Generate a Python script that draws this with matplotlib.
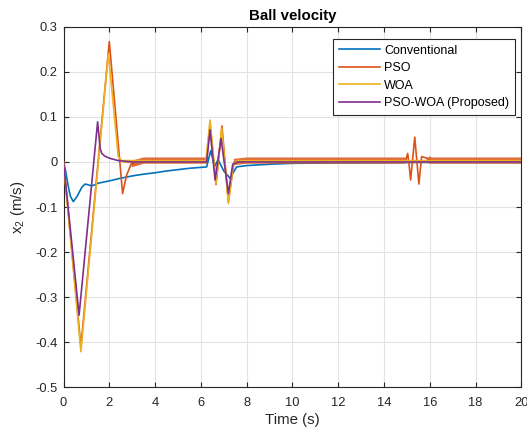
import matplotlib
matplotlib.use("Agg")
import matplotlib.pyplot as plt
import numpy as np

plt.rcParams['font.family'] = ['Liberation Sans', 'DejaVu Sans']
plt.rcParams['mathtext.fontset'] = 'custom'
plt.rcParams['mathtext.rm'] = 'Liberation Sans'
plt.rcParams['mathtext.it'] = 'Liberation Sans'

# ---- data ----
t_conv = [0, 0.1, 0.2, 0.3, 0.43, 0.6, 0.8, 0.94, 1.1, 1.23, 1.4, 1.52, 2.0, 2.5, 3.0,
          3.5, 4.0, 4.5, 5.0, 5.5, 6.0, 6.25, 6.43, 6.6, 6.75, 7.0, 7.27, 7.56, 8.0,
          9.0, 10.0, 12.0, 16.0, 20.0]
conv = [0, -0.022, -0.052, -0.076, -0.088, -0.076, -0.056, -0.049, -0.051, -0.053, -0.050,
        -0.047, -0.042, -0.036, -0.031, -0.027, -0.024, -0.020, -0.017, -0.014, -0.012,
        -0.011, 0.025, -0.010, 0.005, -0.020, -0.036, -0.011, -0.008, -0.005, -0.003,
        -0.002, -0.001, -0.001]

t_pso = [0, 0.76, 2.0, 2.58, 2.75, 2.95, 3.5, 6.25, 6.40, 6.66, 6.92, 7.2, 7.45, 8.0,
         14.95, 15.03, 15.08, 15.16, 15.34, 15.52, 15.64, 15.9, 16.0, 20.0]
pso = [0, -0.41, 0.267, -0.070, -0.030, -0.005, 0.003, 0.003, 0.085, -0.050, 0.080,
       -0.088, 0.0, 0.003, 0.003, 0.019, 0.0, -0.040, 0.055, -0.049, 0.012, 0.008,
       0.003, 0.003]
pso_settled = [(2.95, 6.25), (7.45, 14.95), (15.9, 20.0)]

t_woa = [0, 0.76, 1.96, 2.39, 2.55, 6.22, 6.40, 6.66, 6.91, 7.2, 7.42, 7.6, 20.0]
woa = [0, -0.421, 0.241, 0.012, 0.003, 0.003, 0.093, -0.048, 0.075, -0.092, -0.003,
       0.003, 0.003]
woa_settled = [(2.55, 6.22), (7.6, 20.0)]

t_pw = [0, 0.68, 1.49, 1.60, 1.67, 1.8, 2.03, 2.4, 3.0, 6.25, 6.40, 6.62, 6.88, 7.2,
        7.39, 7.6, 20.0]
pw = [0, -0.340, 0.089, 0.030, 0.019, 0.013, 0.008, 0.003, 0.0, 0.0, 0.071, -0.040,
      0.052, -0.070, -0.005, 0.0, 0.0]

labels = ['Conventional', 'PSO', 'WOA', 'PSO-WOA (Proposed)']
colors = ['#0072BD', '#D95319', '#EDB120', '#7E2F8E']
x_ticks = [0, 2, 4, 6, 8, 10, 12, 14, 16, 18, 20]
y_ticks = [-0.5, -0.4, -0.3, -0.2, -0.1, 0, 0.1, 0.2, 0.3]
y_ticklabels = ['-0.5', '-0.4', '-0.3', '-0.2', '-0.1', '0', '0.1', '0.2', '0.3']

fig = plt.figure(figsize=(5.27, 4.32), dpi=100)
ax = fig.add_axes([0.1205, 0.1035, 0.869, 0.8345])

lw = 1.2
ax.plot(t_conv, conv, color=colors[0], lw=lw, label=labels[0], zorder=2)

ax.plot(t_pso, pso, color=colors[1], lw=lw, label=labels[1], zorder=3)
tp = np.array(t_pso); yp = np.array(pso)
for a, b in pso_settled:
    m = (tp >= a) & (tp <= b)
    ax.plot(tp[m], yp[m], color=colors[1], lw=4.5, alpha=0.85, solid_capstyle='butt', zorder=3)

ax.plot(t_woa, woa, color=colors[2], lw=lw, label=labels[2], zorder=4)
tw = np.array(t_woa); yw = np.array(woa)
for a, b in woa_settled:
    m = (tw >= a) & (tw <= b)
    ax.plot(tw[m], yw[m], color=colors[2], lw=2.2, solid_capstyle='butt', zorder=4)

ax.plot(t_pw, pw, color=colors[3], lw=lw, label=labels[3], zorder=5)

ax.set_xlim(0, 20)
ax.set_ylim(-0.5, 0.3)
ax.set_xticks(x_ticks)
ax.set_yticks(y_ticks)
ax.set_xticklabels([str(v) for v in x_ticks])
ax.set_yticklabels(y_ticklabels)
ax.grid(True, color='#E3E3E3', lw=0.8)
ax.set_axisbelow(True)
ax.tick_params(direction='in', top=True, right=True, length=3.5, width=0.8,
               labelsize=9.3, colors='#262626')
ax.tick_params(axis='x', pad=7)
ax.tick_params(axis='y', pad=4.5)
for s in ax.spines.values():
    s.set_color('#262626')
    s.set_linewidth(0.8)

ax.set_xlabel('Time (s)', fontsize=10.8, color='#262626', labelpad=3)
ax.set_ylabel(r'x$_{\mathregular{2}}$ (m/s)', fontsize=10.8, color='#262626', labelpad=6)
ax.set_title('Ball velocity', fontsize=10.8, fontweight='bold', pad=5)

leg = ax.legend(loc='upper right', bbox_to_anchor=(0.986, 0.966), borderaxespad=0,
                fontsize=9, handlelength=3.3, handletextpad=0.35, labelspacing=0.44,
                borderpad=0.45, fancybox=False, framealpha=1, edgecolor='#262626')
leg.get_frame().set_linewidth(0.8)

fig.savefig('out.png', dpi=100)
